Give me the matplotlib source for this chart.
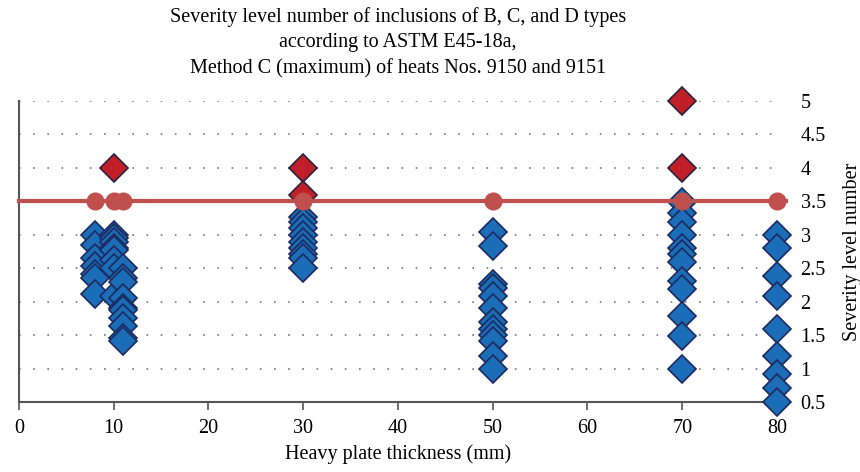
import numpy as np
import matplotlib.pyplot as plt

# thickness (mm) and severity level, blue = within limit, red = above limit
blue_x = [8, 8, 8, 8, 8, 8, 8,
          10, 10, 10, 10, 10, 10, 10, 10,
          11, 11, 11, 11, 11, 11, 11, 11, 11, 11,
          30, 30, 30, 30, 30, 30, 30, 30, 30,
          50, 50, 50, 50, 50, 50, 50, 50, 50, 50, 50, 50,
          70, 70, 70, 70, 70, 70, 70, 70, 70, 70, 70, 70,
          80, 80, 80, 80, 80, 80, 80, 80, 80]
blue_y = [3.0, 2.85, 2.66, 2.54, 2.42, 2.36, 2.12,
          3.0, 2.95, 2.89, 2.81, 2.77, 2.62, 2.5, 2.09,
          2.5, 2.36, 2.29, 2.06, 1.91, 1.87, 1.76, 1.64, 1.46, 1.42,
          3.26, 3.19, 3.1, 3.0, 2.9, 2.8, 2.72, 2.66, 2.5,
          3.04, 2.83, 2.27, 2.2, 2.09, 1.9, 1.7, 1.6, 1.5, 1.42, 1.19, 1.0,
          3.49, 3.32, 3.19, 3.0, 2.81, 2.72, 2.59, 2.31, 2.19, 1.79, 1.49, 1.0,
          3.0, 2.8, 2.39, 2.09, 1.6, 1.19, 0.92, 0.71, 0.5]
red_x = [10, 30, 30, 70, 70]
red_y = [4.0, 4.0, 3.6, 5.0, 4.0]

crit_x = [8, 10, 11, 30, 50, 70, 80]
crit_level = 3.5
line_x = [0, 81]

xticks = [0, 10, 20, 30, 40, 50, 60, 70, 80]
yticks = [0.5, 1, 1.5, 2, 2.5, 3, 3.5, 4, 4.5, 5]

plt.rcParams['font.family'] = ['Liberation Serif', 'DejaVu Serif']
fs = 14.5

fig = plt.figure(figsize=(8.6, 4.72), dpi=100)
ax = fig.add_axes([0.022, 0.148, 0.8815, 0.638])

for y in yticks[1:]:
    ax.plot([0, 80], [y, y], color='#777777', lw=1.2, linestyle=(0, (1, 7.5)), zorder=1)

ax.plot(blue_x, blue_y, 'D', ms=14, mfc='#1a6db6', mec='#1c2a60', mew=1.2,
        linestyle='none', clip_on=False, zorder=3)
ax.plot(red_x, red_y, 'D', ms=14, mfc='#c01f27', mec='#2a2240', mew=1.2,
        linestyle='none', clip_on=False, zorder=4)
ax.plot(line_x, [crit_level] * 2, color='#c0504d', lw=3, clip_on=False, zorder=5)
ax.plot(crit_x, [crit_level] * len(crit_x), 'o', ms=12, color='#c0504d',
        linestyle='none', clip_on=False, zorder=6)

ax.set_xlim(0, 80)
ax.set_ylim(0.5, 5)
ax.set_xticks(xticks)
ax.set_xticklabels([str(v) for v in xticks], fontsize=fs)
ax.set_yticks(yticks)
ax.set_yticklabels(['%g' % v for v in yticks], fontsize=fs)
ax.yaxis.tick_right()
ax.yaxis.set_label_position('right')
ax.tick_params(axis='y', length=0, pad=17)
ax.tick_params(axis='x', length=6, width=1.2, color='#555555', pad=6, direction='out')

for s in ['top', 'right']:
    ax.spines[s].set_visible(False)
for s in ['left', 'bottom']:
    ax.spines[s].set_color('#555555')
    ax.spines[s].set_linewidth(1.5)

ax.set_ylabel('Severity level number', fontsize=fs, labelpad=12)
ax.set_xlabel('Heavy plate thickness (mm)', fontsize=fs, labelpad=5)
ax.set_title('Severity level number of inclusions of B, C, and D types\n'
             'according to ASTM E45-18a,\n'
             'Method C (maximum) of heats Nos. 9150 and 9151',
             fontsize=fs, linespacing=1.45, pad=20)

fig.savefig('out.png', dpi=100)
